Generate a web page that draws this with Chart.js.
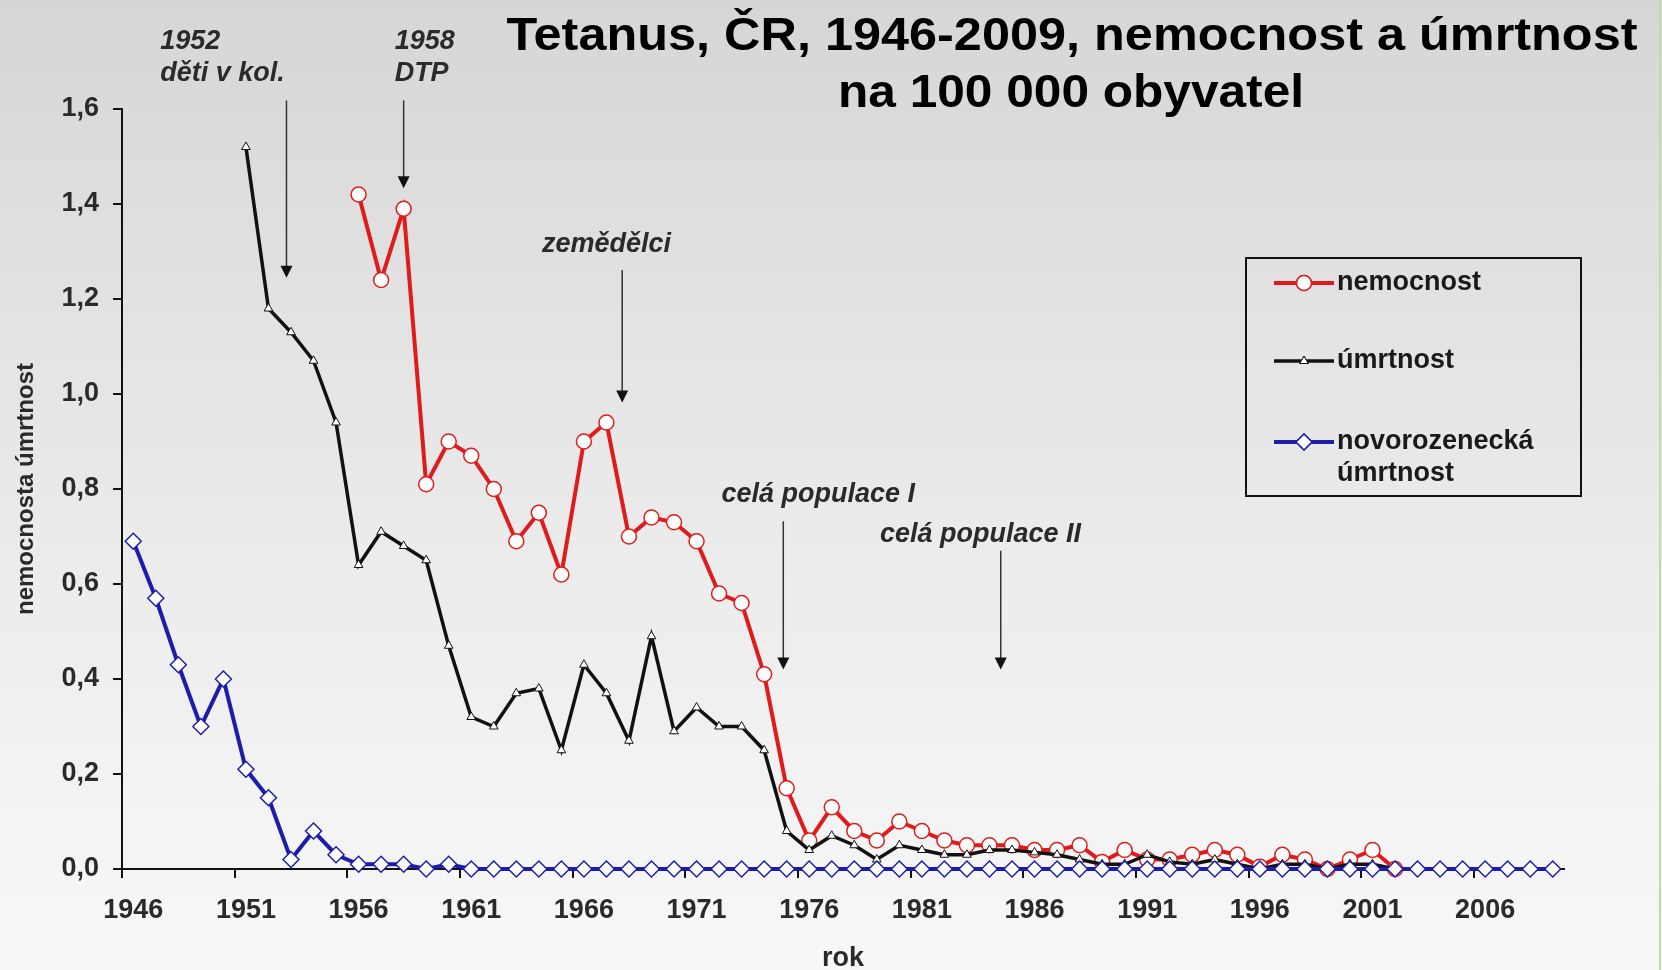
<!DOCTYPE html>
<html lang="cs">
<head>
    <meta charset="UTF-8">
    <title>Tetanus, ČR, 1946-2009</title>
    <script src="https://cdn.jsdelivr.net/npm/chart.js"></script>
    <style>
        html, body {
            margin: 0;
            padding: 0;
            background: #eeeeee;
        }

        #chart-container {
            width: 1662px;
            height: 970px;
            position: relative;
        }
    </style>
</head>
<body>
<div id="chart-container">
    <canvas id="tetanusChart"></canvas>
</div>

<script>
    const years = [
        '1946', '1947', '1948', '1949', '1950', '1951', '1952', '1953', '1954', '1955',
        '1956', '1957', '1958', '1959', '1960', '1961', '1962', '1963', '1964', '1965',
        '1966', '1967', '1968', '1969', '1970', '1971', '1972', '1973', '1974', '1975',
        '1976', '1977', '1978', '1979', '1980', '1981', '1982', '1983', '1984', '1985',
        '1986', '1987', '1988', '1989', '1990', '1991', '1992', '1993', '1994', '1995',
        '1996', '1997', '1998', '1999', '2000', '2001', '2002', '2003', '2004', '2005',
        '2006', '2007', '2008', '2009'
    ];

    // nemocnost na 100 000 (1956-2002)
    const nemocnost = [
        null, null, null, null, null, null, null, null, null, null,
        1.42, 1.24, 1.39, 0.81, 0.90, 0.87, 0.80, 0.69, 0.75, 0.62,
        0.90, 0.94, 0.70, 0.74, 0.73, 0.69, 0.58, 0.56, 0.41, 0.17,
        0.06, 0.13, 0.08, 0.06, 0.10, 0.08, 0.06, 0.05, 0.05, 0.05,
        0.04, 0.04, 0.05, 0.015, 0.04, 0.02, 0.02, 0.03, 0.04, 0.03,
        0.005, 0.03, 0.02, 0.0, 0.02, 0.04, 0.0, null, null, null,
        null, null, null, null
    ];

    // úmrtnost (1951-2002)
    const umrtnost = [
        null, null, null, null, null, 1.52, 1.18, 1.13, 1.07, 0.94,
        0.64, 0.71, 0.68, 0.65, 0.47, 0.32, 0.30, 0.37, 0.38, 0.25,
        0.43, 0.37, 0.27, 0.49, 0.29, 0.34, 0.30, 0.30, 0.25, 0.08,
        0.04, 0.07, 0.05, 0.02, 0.05, 0.04, 0.03, 0.03, 0.04, 0.04,
        0.035, 0.03, 0.02, 0.01, 0.01, 0.03, 0.015, 0.01, 0.02, 0.01,
        0.0, 0.01, 0.01, 0.0, 0.01, 0.01, 0.0, null, null, null,
        null, null, null, null
    ];

    // novorozenecká úmrtnost (1946-2009)
    const novorozenecka = [
        0.69, 0.57, 0.43, 0.30, 0.40, 0.21, 0.15, 0.02, 0.08, 0.03,
        0.01, 0.01, 0.01, 0.0, 0.01, 0.0, 0.0, 0.0, 0.0, 0.0,
        0.0, 0.0, 0.0, 0.0, 0.0, 0.0, 0.0, 0.0, 0.0, 0.0,
        0.0, 0.0, 0.0, 0.0, 0.0, 0.0, 0.0, 0.0, 0.0, 0.0,
        0.0, 0.0, 0.0, 0.0, 0.0, 0.0, 0.0, 0.0, 0.0, 0.0,
        0.0, 0.0, 0.0, 0.0, 0.0, 0.0, 0.0, 0.0, 0.0, 0.0,
        0.0, 0.0, 0.0, 0.0
    ];

    const yTicks = [0, 0.2, 0.4, 0.6, 0.8, 1.0, 1.2, 1.4, 1.6];

    const titleLines = ['Tetanus, ČR, 1946-2009, nemocnost a úmrtnost', 'na 100 000 obyvatel'];

    // popisky se šipkami: poloha v letech a v hodnotách osy y
    const notes = [
        { lines: ['1952', 'děti v kol.'], align: 'left', year: 1947.2, y: [1.741, 1.674], arrowYear: 1952.8, from: 1.618, to: 1.245 },
        { lines: ['1958', 'DTP'], align: 'left', year: 1957.6, y: [1.741, 1.674], arrowYear: 1958.0, from: 1.618, to: 1.433 },
        { lines: ['zemědělci'], align: 'center', year: 1967.0, y: [1.314], arrowYear: 1967.7, from: 1.261, to: 0.982 },
        { lines: ['celá populace I'], align: 'center', year: 1976.4, y: [0.788], arrowYear: 1974.85, from: 0.732, to: 0.42 },
        { lines: ['celá populace II'], align: 'center', year: 1983.6, y: [0.705], arrowYear: 1984.5, from: 0.67, to: 0.42 }
    ];

    const FONT = "'Liberation Sans', Arial, sans-serif";
    Chart.defaults.font.family = FONT;

    const RED = '#e01b1b';
    const BLACK = '#111111';
    const BLUE = '#1d1dac';

    const bgPlugin = {
        id: 'bg',
        beforeDraw(chart) {
            const ctx = chart.ctx;
            const g = ctx.createLinearGradient(0, 0, 0, chart.height);
            g.addColorStop(0, '#d6d6d6');
            g.addColorStop(0.55, '#ebebeb');
            g.addColorStop(1, '#f8f8f8');
            ctx.save();
            ctx.fillStyle = g;
            ctx.fillRect(0, 0, chart.width, chart.height);
            ctx.fillStyle = '#b9dfa2';
            ctx.fillRect(chart.width - 3, 0, 2, chart.height);
            ctx.restore();
        }
    };

    function stretchedText(ctx, text, cx, cy, width) {
        const w = ctx.measureText(text).width;
        ctx.save();
        ctx.translate(cx, cy);
        ctx.scale(width / w, 1);
        ctx.fillText(text, 0, 0);
        ctx.restore();
    }

    const decorPlugin = {
        id: 'decor',
        afterDraw(chart) {
            const ctx = chart.ctx;
            const xs = chart.scales.x;
            const ys = chart.scales.y;
            ctx.save();

            // nadpis
            ctx.fillStyle = '#000';
            ctx.font = 'bold 47px ' + FONT;
            ctx.textAlign = 'center';
            ctx.textBaseline = 'middle';
            stretchedText(ctx, titleLines[0], 1072, 37, 1131);
            stretchedText(ctx, titleLines[1], 1071, 94, 466);

            // popisky a šipky
            ctx.font = 'italic bold 27px ' + FONT;
            ctx.fillStyle = '#2a2a2a';
            notes.forEach(n => {
                ctx.textAlign = n.align;
                const tx = xs.getPixelForValue(n.year - 1946);
                n.lines.forEach((line, i) => {
                    ctx.fillText(line, tx, ys.getPixelForValue(n.y[i]));
                });
                const ax = xs.getPixelForValue(n.arrowYear - 1946);
                const y0 = ys.getPixelForValue(n.from);
                const y1 = ys.getPixelForValue(n.to);
                ctx.strokeStyle = '#333';
                ctx.lineWidth = 1.5;
                ctx.beginPath();
                ctx.moveTo(ax, y0);
                ctx.lineTo(ax, y1 - 10);
                ctx.stroke();
                ctx.fillStyle = '#111';
                ctx.beginPath();
                ctx.moveTo(ax - 6, y1 - 12);
                ctx.lineTo(ax + 6, y1 - 12);
                ctx.lineTo(ax, y1);
                ctx.closePath();
                ctx.fill();
                ctx.fillStyle = '#2a2a2a';
            });

            // legenda
            ctx.strokeStyle = '#111';
            ctx.lineWidth = 2;
            ctx.strokeRect(1246, 258, 335, 238);
            const items = [
                { ds: chart.data.datasets[0], y: 283, text: ['nemocnost'] },
                { ds: chart.data.datasets[1], y: 361, text: ['úmrtnost'] },
                { ds: chart.data.datasets[2], y: 442, text: ['novorozenecká', 'úmrtnost'] }
            ];
            items.forEach(it => {
                ctx.strokeStyle = it.ds.borderColor;
                ctx.lineWidth = it.ds.borderWidth;
                ctx.beginPath();
                ctx.moveTo(1274, it.y);
                ctx.lineTo(1334, it.y);
                ctx.stroke();
                ctx.lineWidth = it.ds.pointBorderWidth;
                Chart.helpers.drawPoint(ctx, {
                    pointStyle: it.ds.pointStyle,
                    radius: it.ds.pointRadius,
                    borderWidth: it.ds.pointBorderWidth
                }, 1304, it.y);
                ctx.fillStyle = '#fff';
                ctx.fill();
                ctx.stroke();
                ctx.fillStyle = '#1a1a1a';
                ctx.font = 'bold 27px ' + FONT;
                ctx.textAlign = 'left';
                ctx.textBaseline = 'middle';
                it.text.forEach((t, i) => ctx.fillText(t, 1337, it.y + i * 32));
            });
            ctx.restore();
        }
    };

    new Chart(document.getElementById('tetanusChart'), {
        type: 'line',
        data: {
            labels: years,
            datasets: [
                {
                    label: 'nemocnost',
                    data: nemocnost,
                    borderColor: RED,
                    borderWidth: 4,
                    pointStyle: 'circle',
                    pointRadius: 7.5,
                    pointBorderWidth: 1.5,
                    pointBackgroundColor: '#fff',
                    pointBorderColor: RED,
                    clip: false,
                    order: 3
                },
                {
                    label: 'úmrtnost',
                    data: umrtnost,
                    borderColor: BLACK,
                    borderWidth: 3.5,
                    pointStyle: 'triangle',
                    pointRadius: 5,
                    pointBorderWidth: 1,
                    pointBackgroundColor: '#fff',
                    pointBorderColor: BLACK,
                    clip: false,
                    order: 2
                },
                {
                    label: 'novorozenecká úmrtnost',
                    data: novorozenecka,
                    borderColor: BLUE,
                    borderWidth: 4,
                    pointStyle: 'rectRot',
                    pointRadius: 8,
                    pointBorderWidth: 1.5,
                    pointBackgroundColor: '#fff',
                    pointBorderColor: BLUE,
                    clip: false,
                    order: 1
                }
            ]
        },
        options: {
            responsive: true,
            maintainAspectRatio: false,
            animation: false,
            layout: {
                padding: { top: 109, right: 98, bottom: 0, left: 0 }
            },
            plugins: {
                legend: { display: false },
                tooltip: { enabled: false }
            },
            scales: {
                x: {
                    offset: true,
                    afterFit(scale) { scale.height = 101; },
                    border: { display: true, color: '#111', width: 2 },
                    grid: {
                        offset: true,
                        drawOnChartArea: false,
                        tickLength: 9,
                        lineWidth: 2,
                        color: ctx => (ctx.index % 5 === 0 ? '#111' : 'rgba(0,0,0,0)')
                    },
                    ticks: {
                        autoSkip: false,
                        maxRotation: 0,
                        padding: 16,
                        color: '#2a2a2a',
                        font: { size: 27, weight: 'bold' },
                        callback: function (value, index) {
                            return index % 5 === 0 ? this.getLabelForValue(value) : '';
                        }
                    },
                    title: {
                        display: true,
                        text: 'rok',
                        color: '#2a2a2a',
                        font: { size: 27, weight: 'bold', lineHeight: 1 },
                        padding: { top: 0, bottom: -2 }
                    }
                },
                y: {
                    min: 0,
                    max: 1.6,
                    afterFit(scale) { scale.width = 122; },
                    afterBuildTicks(scale) { scale.ticks = yTicks.map(v => ({ value: v })); },
                    border: { display: true, color: '#111', width: 2 },
                    grid: {
                        drawOnChartArea: false,
                        tickLength: 9,
                        lineWidth: 2,
                        color: '#111'
                    },
                    ticks: {
                        padding: 14,
                        color: '#2a2a2a',
                        font: { size: 27, weight: 'bold' },
                        callback: v => v.toFixed(1).replace('.', ',')
                    },
                    title: {
                        display: true,
                        text: 'nemocnosta úmrtnost',
                        color: '#2a2a2a',
                        font: { size: 24, weight: 'bold' },
                        padding: { top: 12, bottom: 0 }
                    }
                }
            }
        },
        plugins: [bgPlugin, decorPlugin]
    });
</script>
</body>
</html>
